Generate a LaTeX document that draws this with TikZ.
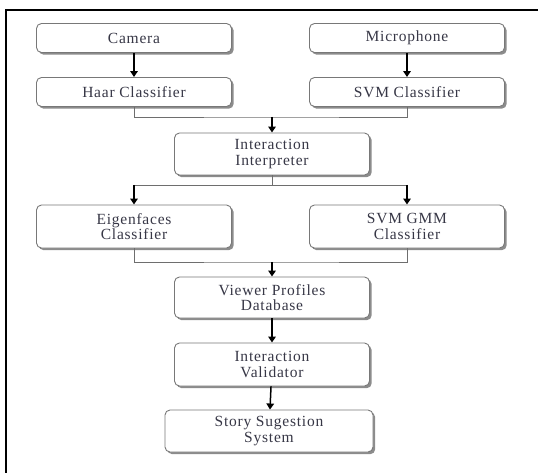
\documentclass[tikz,border=0pt]{standalone}
\usepackage{fontspec}
\setmainfont{Liberation Serif}
\usetikzlibrary{arrows.meta,shadows}
\definecolor{txt}{RGB}{55,55,70}
\definecolor{boxline}{RGB}{120,120,120}
\definecolor{shad}{RGB}{140,140,140}
\definecolor{thin}{RGB}{110,110,110}
\tikzset{
  box/.style={draw=boxline, line width=0.9pt, rounded corners=5pt, fill=white,
    text=txt, align=center, inner sep=2pt,
    font=\fontsize{15.5}{15.5}\selectfont\addfontfeatures{LetterSpace=5},
    drop shadow={shadow xshift=2.2pt, shadow yshift=-2.2pt, fill=shad, opacity=1}},
  link/.style={draw=thin, line width=0.9pt},
  arr/.style={draw=black, line width=1.5pt, -{Triangle[width=7.5pt,length=6pt]}},
}
\begin{document}
\begin{tikzpicture}[x=1pt,y=-1pt]
\useasboundingbox (0,0) rectangle (538,473);
% outer frame
\draw[line width=2.4pt, line cap=rect] (6,473) -- (6,10) -- (538,10);

\node[box, minimum width=195pt, minimum height=29pt] (cam) at (134,38) {Camera};
\node[box, minimum width=195pt, minimum height=29pt] (mic) at (407,38) {Microphone};
\node[box, minimum width=195pt, minimum height=29pt] (haar) at (134,92) {Haar Classifier};
\node[box, minimum width=195pt, minimum height=29pt] (svm) at (407,92) {SVM Classifier};
\node[box, minimum width=195pt, minimum height=42pt] (interp) at (272,154) {Interaction\\Interpreter};
\node[box, minimum width=195pt, minimum height=43pt] (eig) at (134,226.5) {Eigenfaces\\Classifier};
\node[box, minimum width=195pt, minimum height=43pt] (gmm) at (407,226.5) {SVM GMM\\Classifier};
\node[box, minimum width=195pt, minimum height=41pt] (view) at (272,297.5) {Viewer Profiles\\Database};
\node[box, minimum width=195pt, minimum height=43pt] (valid) at (272,364.5) {Interaction\\Validator};
\node[box, minimum width=208pt, minimum height=42pt] (story) at (269,431) {Story Sugestion\\System};

\coordinate (j1) at (272,117);
\coordinate (j2) at (272,185);
\coordinate (j3) at (272,262);
\coordinate (j2l) at (134,185);
\coordinate (j2r) at (407,185);

\draw[arr] (cam) -- (haar);
\draw[arr] (mic) -- (svm);
\draw[link] (haar.south) |- (j1) -| (svm.south);
\draw[arr] (j1) -- (interp.north);
\draw[link] (interp.south) -- (j2);
\draw[link] (j2l) -- (j2r);
\draw[arr] (j2l) -- (eig.north);
\draw[arr] (j2r) -- (gmm.north);
\draw[link] (eig.south) |- (j3) -| (gmm.south);
\draw[arr] (j3) -- (view.north);
\draw[arr] (view) -- (valid);
\draw[arr] (valid) -- (story);
\end{tikzpicture}
\end{document}
